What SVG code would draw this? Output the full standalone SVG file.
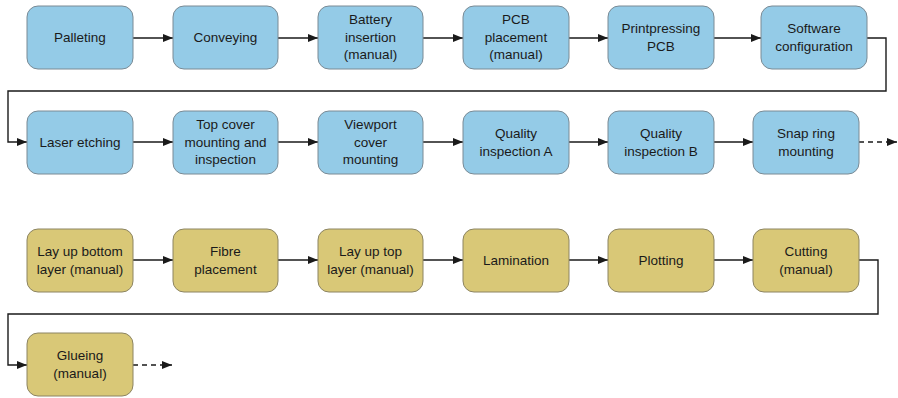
<svg xmlns="http://www.w3.org/2000/svg" width="898" height="398" viewBox="0 0 898 398">
<defs>
<style>
.b{fill:#94CBE7;stroke:#7a8a94;stroke-width:1}
.y{fill:#D9C877;stroke:#8c8462;stroke-width:1}
.t{font-family:"Liberation Sans",Arial,sans-serif;font-size:13.5px;fill:#1a1a1a;text-anchor:middle}
.c{fill:none;stroke:#1a1a1a;stroke-width:1.4}
.d{fill:none;stroke:#1a1a1a;stroke-width:1.4;stroke-dasharray:5,4}
</style>
<marker id="a" viewBox="0 0 10 8" refX="10" refY="4" markerWidth="10" markerHeight="8" markerUnits="userSpaceOnUse" orient="auto">
<path d="M0,0 L10,4 L0,8 Z" fill="#1a1a1a"/>
</marker>
</defs>
<g id="connectors">
<path class="c" d="M133,38 H173" marker-end="url(#a)"/>
<path class="c" d="M278,38 H318" marker-end="url(#a)"/>
<path class="c" d="M423,38 H463" marker-end="url(#a)"/>
<path class="c" d="M569,38 H608" marker-end="url(#a)"/>
<path class="c" d="M714,38 H761" marker-end="url(#a)"/>
<path class="c" d="M867,38 H886 V91 H8 V142 H27" marker-end="url(#a)"/>
<path class="c" d="M133,142 H173" marker-end="url(#a)"/>
<path class="c" d="M278,142 H318" marker-end="url(#a)"/>
<path class="c" d="M423,142 H463" marker-end="url(#a)"/>
<path class="c" d="M569,142 H608" marker-end="url(#a)"/>
<path class="c" d="M714,142 H753" marker-end="url(#a)"/>
<path class="d" d="M859,142 H897" marker-end="url(#a)"/>
<path class="c" d="M133,260 H173" marker-end="url(#a)"/>
<path class="c" d="M278,260 H318" marker-end="url(#a)"/>
<path class="c" d="M423,260 H463" marker-end="url(#a)"/>
<path class="c" d="M569,260 H608" marker-end="url(#a)"/>
<path class="c" d="M714,260 H753" marker-end="url(#a)"/>
<path class="c" d="M859,260 H878 V314 H8 V365 H27" marker-end="url(#a)"/>
<path class="d" d="M133,365 H172" marker-end="url(#a)"/>
</g>
<g id="palleting"><rect class="b" x="27" y="6" width="106" height="63" rx="11"/><text class="t" x="80" y="42">Palleting</text></g>
<g id="conveying"><rect class="b" x="173" y="6" width="105" height="63" rx="11"/><text class="t" x="225.5" y="42">Conveying</text></g>
<g id="battery"><rect class="b" x="318" y="6" width="105" height="63" rx="11"/><text class="t" x="370.5" y="24">Battery</text><text class="t" x="370.5" y="42">insertion</text><text class="t" x="370.5" y="59">(manual)</text></g>
<g id="pcb"><rect class="b" x="463" y="6" width="106" height="63" rx="11"/><text class="t" x="516" y="24">PCB</text><text class="t" x="516" y="42">placement</text><text class="t" x="516" y="59">(manual)</text></g>
<g id="printpressing"><rect class="b" x="608" y="6" width="106" height="63" rx="11"/><text class="t" x="661" y="33">Printpressing</text><text class="t" x="661" y="51">PCB</text></g>
<g id="software"><rect class="b" x="761" y="6" width="106" height="63" rx="11"/><text class="t" x="814" y="33">Software</text><text class="t" x="814" y="51">configuration</text></g>
<g id="laser"><rect class="b" x="27" y="111" width="106" height="63" rx="11"/><text class="t" x="80" y="147">Laser etching</text></g>
<g id="topcover"><rect class="b" x="173" y="111" width="105" height="63" rx="11"/><text class="t" x="225.5" y="129">Top cover</text><text class="t" x="225.5" y="147">mounting and</text><text class="t" x="225.5" y="164">inspection</text></g>
<g id="viewport"><rect class="b" x="318" y="111" width="105" height="63" rx="11"/><text class="t" x="370.5" y="129">Viewport</text><text class="t" x="370.5" y="147">cover</text><text class="t" x="370.5" y="164">mounting</text></g>
<g id="qualityA"><rect class="b" x="463" y="111" width="106" height="63" rx="11"/><text class="t" x="516" y="138">Quality</text><text class="t" x="516" y="156">inspection A</text></g>
<g id="qualityB"><rect class="b" x="608" y="111" width="106" height="63" rx="11"/><text class="t" x="661" y="138">Quality</text><text class="t" x="661" y="156">inspection B</text></g>
<g id="snapring"><rect class="b" x="753" y="111" width="106" height="63" rx="11"/><text class="t" x="806" y="138">Snap ring</text><text class="t" x="806" y="156">mounting</text></g>
<g id="laybottom"><rect class="y" x="27" y="229" width="106" height="63" rx="11"/><text class="t" x="80" y="256">Lay up bottom</text><text class="t" x="80" y="274">layer (manual)</text></g>
<g id="fibre"><rect class="y" x="173" y="229" width="105" height="63" rx="11"/><text class="t" x="225.5" y="256">Fibre</text><text class="t" x="225.5" y="274">placement</text></g>
<g id="laytop"><rect class="y" x="318" y="229" width="105" height="63" rx="11"/><text class="t" x="370.5" y="256">Lay up top</text><text class="t" x="370.5" y="274">layer (manual)</text></g>
<g id="lamination"><rect class="y" x="463" y="229" width="106" height="63" rx="11"/><text class="t" x="516" y="265">Lamination</text></g>
<g id="plotting"><rect class="y" x="608" y="229" width="106" height="63" rx="11"/><text class="t" x="661" y="265">Plotting</text></g>
<g id="cutting"><rect class="y" x="753" y="229" width="106" height="63" rx="11"/><text class="t" x="806" y="256">Cutting</text><text class="t" x="806" y="274">(manual)</text></g>
<g id="glueing"><rect class="y" x="27" y="333" width="106" height="63" rx="11"/><text class="t" x="80" y="360">Glueing</text><text class="t" x="80" y="378">(manual)</text></g>
</svg>
